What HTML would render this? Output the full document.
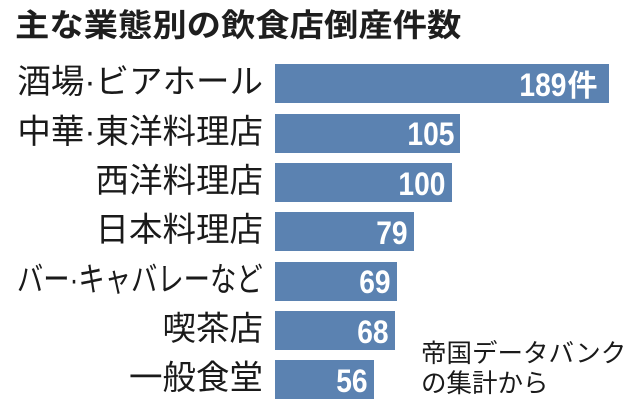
<!DOCTYPE html>
<html><head><meta charset="utf-8">
<style>
html,body{margin:0;padding:0;background:#fff;}
#c{position:relative;width:640px;height:413px;overflow:hidden;background:#fff;}
.t{position:absolute;left:15px;top:8px;font-family:"Liberation Sans","Noto Sans CJK JP",sans-serif;font-weight:bold;font-size:31.5px;line-height:34px;color:#1e1e1e;white-space:nowrap;transform:scaleX(1.09);transform-origin:left center;}
.bar{position:absolute;left:275px;height:39px;background:#5b82b1;}
.lb{position:absolute;right:377px;height:39px;line-height:39px;font-family:"Liberation Sans","Noto Sans CJK JP",sans-serif;font-size:33.5px;color:#1a1a1a;white-space:nowrap;text-align:right;}
.v{position:absolute;height:39px;line-height:39px;font-family:"Liberation Sans",sans-serif;font-weight:bold;font-size:32px;color:#fff;white-space:nowrap;transform:scaleX(0.88);transform-origin:right center;}
.k{position:absolute;height:39px;line-height:39px;font-family:"Noto Sans CJK JP",sans-serif;font-weight:bold;font-size:30px;color:#fff;}
.fn{position:absolute;left:421px;top:340px;font-family:"Liberation Sans","Noto Sans CJK JP",sans-serif;font-size:25.5px;line-height:29.5px;color:#1a1a1a;white-space:nowrap;}
</style></head><body>
<div id="c">
<div class="t">主な業態別の飲食店倒産件数</div>

<div class="bar" style="top:64.3px;width:333.5px"></div>
<div class="bar" style="top:113.6px;width:185px"></div>
<div class="bar" style="top:162.9px;width:176.5px"></div>
<div class="bar" style="top:212.2px;width:139px"></div>
<div class="bar" style="top:261.5px;width:121.5px"></div>
<div class="bar" style="top:310.8px;width:120px"></div>
<div class="bar" style="top:360.1px;width:98.5px"></div>

<div class="lb" style="top:63.3px">酒場·ビアホール</div>
<div class="lb" style="top:112.6px">中華·東洋料理店</div>
<div class="lb" style="top:161.9px">西洋料理店</div>
<div class="lb" style="top:211.2px">日本料理店</div>
<div class="lb" style="top:260.5px;transform:scaleX(0.786);transform-origin:right center;">バー·キャバレーなど</div>
<div class="lb" style="top:309.8px">喫茶店</div>
<div class="lb" style="top:359.1px">一般食堂</div>

<div class="v" style="top:66px;right:74px">189</div>
<div class="k" style="top:64.3px;left:567.5px">件</div>
<div class="v" style="top:115.3px;right:186px">105</div>
<div class="v" style="top:164.6px;right:194.5px">100</div>
<div class="v" style="top:213.9px;right:232px">79</div>
<div class="v" style="top:263.2px;right:249.5px">69</div>
<div class="v" style="top:312.5px;right:251px">68</div>
<div class="v" style="top:361.8px;right:272.5px">56</div>

<div class="fn">帝国データバンク<br>の集計から</div>
</div>
</body></html>
